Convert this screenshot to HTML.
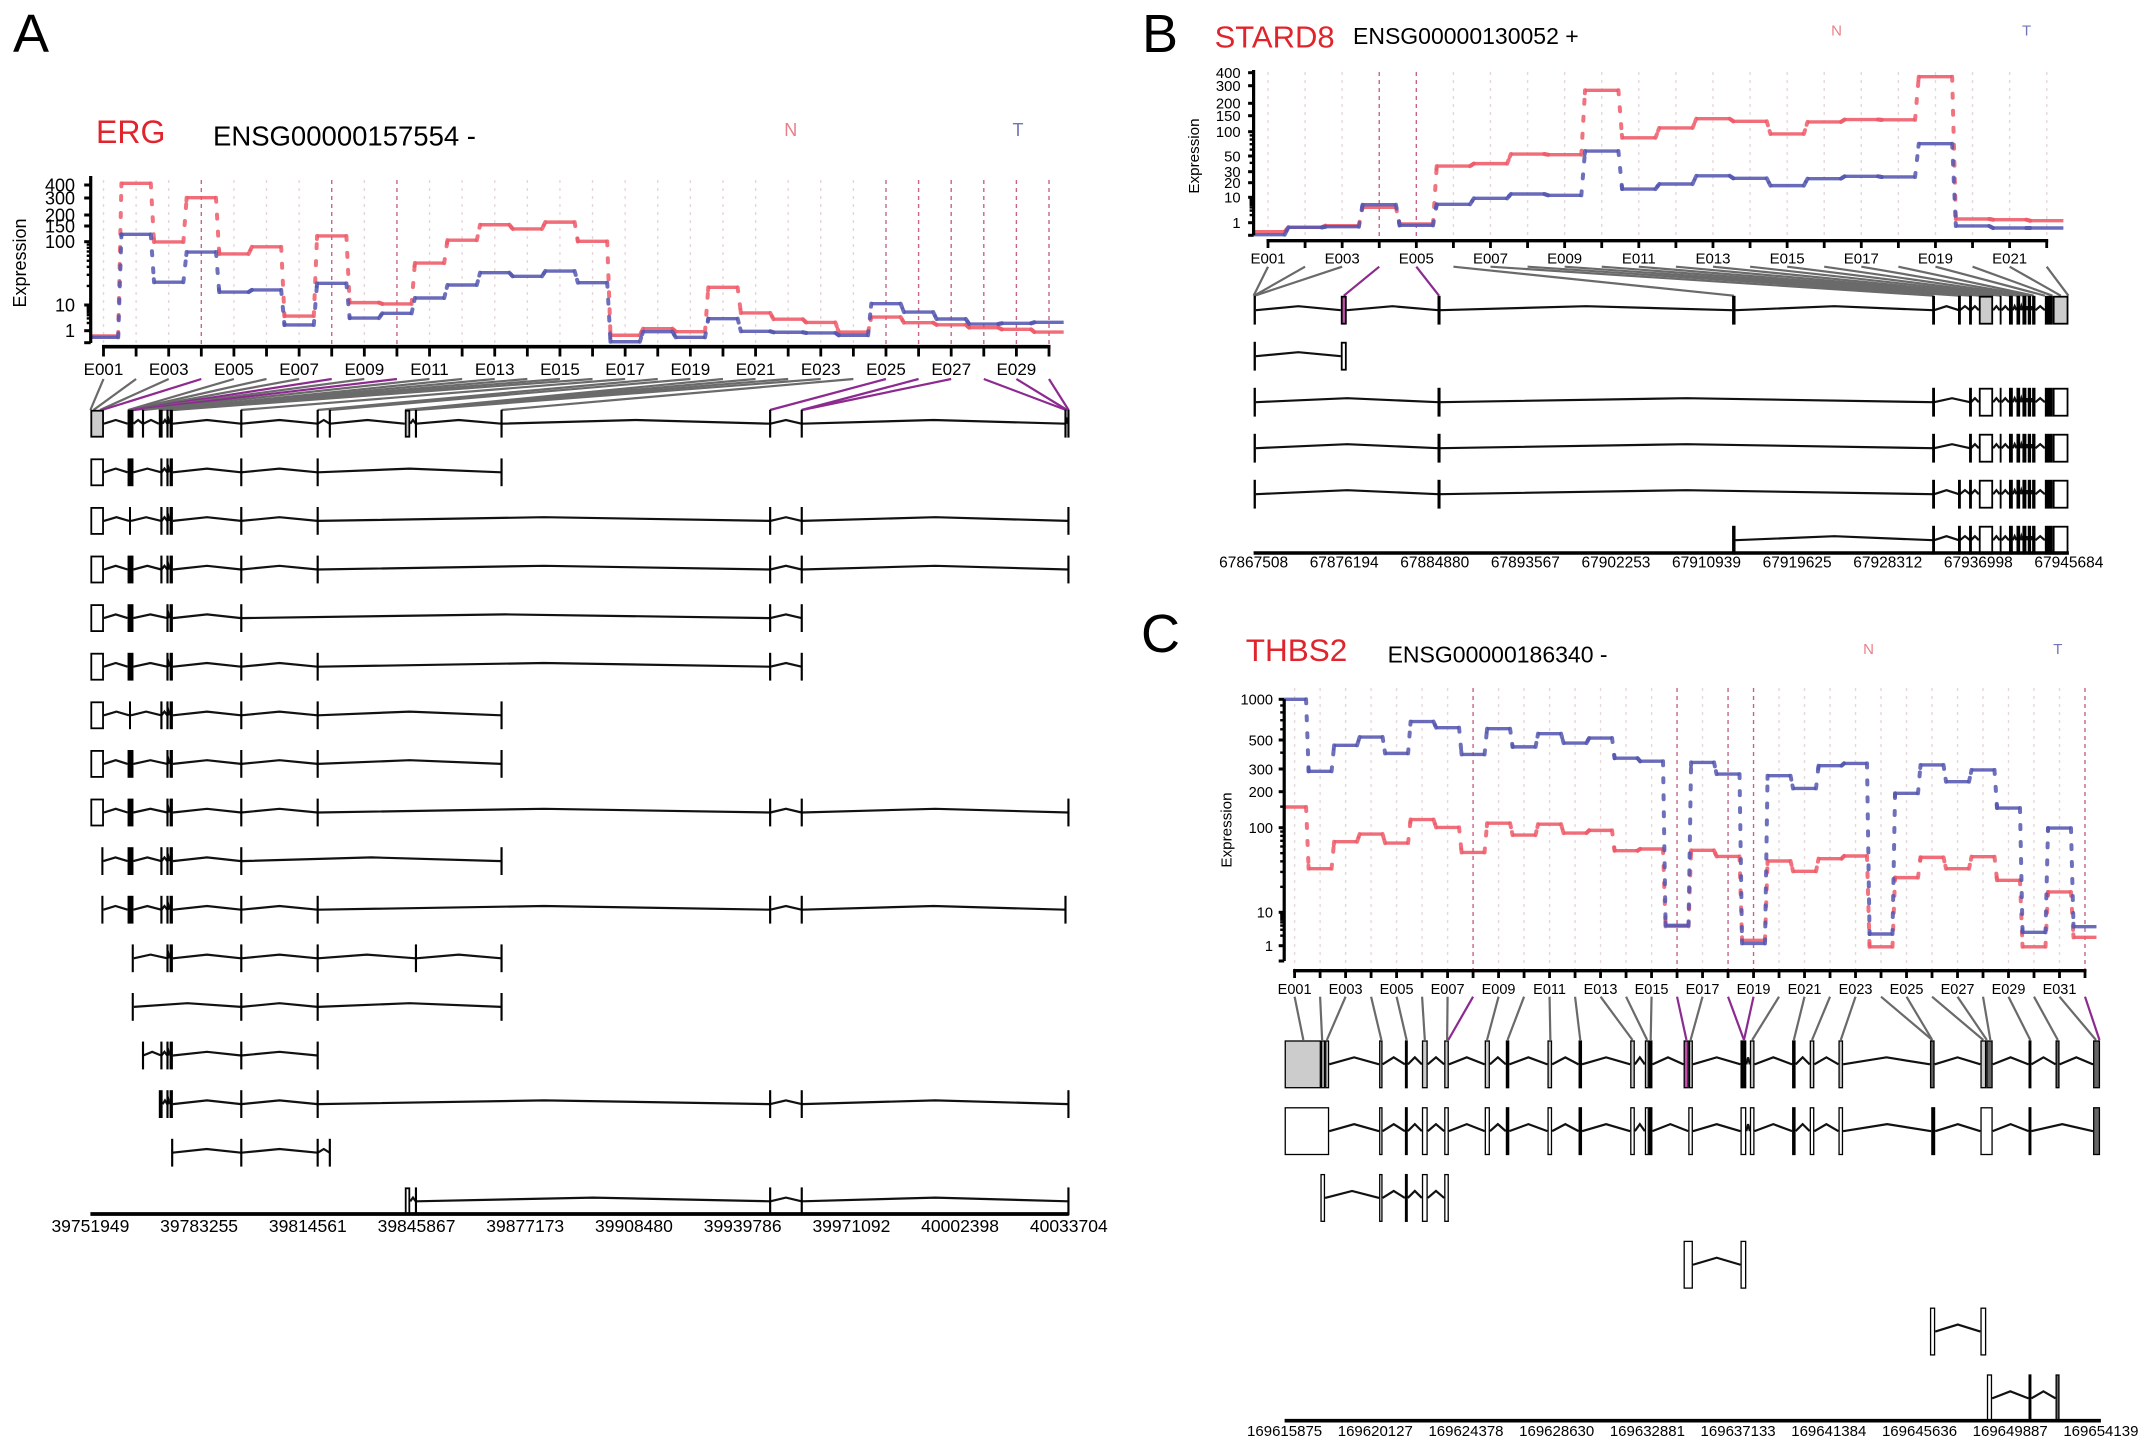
<!DOCTYPE html>
<html lang="en">
<head>
<meta charset="utf-8">
<title>ERG, STARD8 and THBS2 exon expression</title>
<style>
html,body{margin:0;padding:0;background:#fff;}
svg{display:block;font-family:"Liberation Sans",Arial,sans-serif;}
</style>
</head>
<body>
<svg id="figure" width="2150" height="1449" viewBox="0 0 2150 1449" xmlns="http://www.w3.org/2000/svg">
<rect width="2150" height="1449" fill="#fff"/>

<g id="panel-a">
<text x="13" y="52" font-size="54">A</text>
<text x="96" y="143" font-size="32" fill="#e0242c">ERG</text>
<text x="213" y="145.7" font-size="27.5">ENSG00000157554 -</text>
<text x="790.7" y="136" font-size="18" text-anchor="middle" fill="#e8808a">N</text>
<text x="1018" y="136" font-size="18" text-anchor="middle" fill="#7275b8">T</text>
<text x="0" y="0" font-size="18" text-anchor="middle" transform="translate(26,263) rotate(-90)">Expression</text>
</g>

<g id="panel-b">
<text x="1142" y="52" font-size="54">B</text>
<text x="1214.6" y="47.7" font-size="31" fill="#e0242c">STARD8</text>
<text x="1353" y="44" font-size="23">ENSG00000130052 +</text>
<text x="1836.6" y="35.7" font-size="15" text-anchor="middle" fill="#e8808a">N</text>
<text x="2026.6" y="35.7" font-size="15" text-anchor="middle" fill="#7275b8">T</text>
<text x="0" y="0" font-size="15.2" text-anchor="middle" transform="translate(1199,156) rotate(-90)">Expression</text>
</g>

<g id="panel-c">
<text x="1141" y="652" font-size="54">C</text>
<text x="1245.8" y="661" font-size="31.5" fill="#e0242c">THBS2</text>
<text x="1387.6" y="662.7" font-size="23">ENSG00000186340 -</text>
<text x="1868.5" y="654" font-size="15" text-anchor="middle" fill="#e8808a">N</text>
<text x="2057.8" y="654" font-size="15" text-anchor="middle" fill="#7275b8">T</text>
<text x="0" y="0" font-size="15.2" text-anchor="middle" transform="translate(1231.5,830) rotate(-90)">Expression</text>
</g>
</svg>

<script>
/* ---------- ERG data ---------- */
const ergCategories = ['E001','E002','E003','E004','E005','E006','E007','E008','E009','E010','E011','E012','E013','E014','E015','E016','E017','E018','E019','E020','E021','E022','E023','E024','E025','E026','E027','E028','E029','E030'];
const ergNormal = [0.56,415,99,302,64,83,3.7,116,10.9,10.4,46,104,155,139,166,101,0.62,1.2,0.92,19,4.9,2.8,2.1,0.89,3.4,2.05,1.7,1.31,1.13,0.89];
const ergTumor = [0.45,121,22.9,68.7,16,17.3,1.67,22,3.1,4.75,12.9,20.7,32.4,28.4,34.4,22.5,0.08,0.92,0.45,2.93,0.95,0.87,0.81,0.62,10.5,5.3,2.85,1.82,1.94,2.12];
const ergSignificant = ['E004','E008','E010','E025','E026','E027','E028','E029','E030'];
const ergYTicks = [0,1,10,100,150,200,300,400];
const ergGenomicTicks = [39751949,39783255,39814561,39845867,39877173,39908480,39939786,39971092,40002398,40033704];
const ergBinStarts = [0,890,2760,3340,10830,11120,11400,11840,12120,12410,15150,19670,20480,22200,22920,23790,43370,65460,68950,90600,91180,92050,93770,118400,195720,204800,204940,280970,281260,281690];
const ergExons = {a:[0,3900],a2:[3150,3750],b:[10700,12400],b2:[11117,11693],b3:[11900,12500],c:[15100,15200],d:[19700,20800],d2:[20400,20500],e:[22150,22250],f:[22810,23760],f2:[23500,23600],g:[43400,43500],h:[65400,65500],i:[68900,69000],j:[90540,92100],k:[93700,93800],l:[118350,118450],m:[195700,195800],n:[204800,204900],o2:[280750,280850],o:[281600,281700]};
const ergSolidExons = ['a2','b','b2','b3','d'];
const ergDarkExons = [];
const ergHighlightExons = [];
const ergTranscripts = [
 ['a','b','c','d','e','f','g','h','i','j','k','l','m','n','o2','o'],
 ['a','b','d2','e','f','g','h','l'],
 ['a','b2','d2','e','f','g','h','m','n','o'],
 ['a','b','d2','e','f','g','h','m','n','o'],
 ['a','b','e','f','g','m','n'],
 ['a','b','e','f','g','h','m','n'],
 ['a','b2','d2','e','f','g','h','l'],
 ['a','b','e','f','g','h','l'],
 ['a','b','e','f','g','h','m','n','o'],
 ['a2','b','d2','e','f','g','l'],
 ['a2','b','d2','e','f','g','h','m','n','o2'],
 ['b3','e','f','g','h','k','l'],
 ['b3','g','h','l'],
 ['c','d2','e','f','g','h'],
 ['d','e','f','g','h','m','n','o'],
 ['f2','g','h','i'],
 ['j','k','m','n','o']
];

/* ---------- STARD8 data ---------- */
const stard8Categories = ['E001','E002','E003','E004','E005','E006','E007','E008','E009','E010','E011','E012','E013','E014','E015','E016','E017','E018','E019','E020','E021','E022'];
const stard8Normal = [0.29,0.63,0.76,4.04,0.9,36,39,52.9,51.9,270,84,110,139,130,93.7,128,136,135,366,1.4,1.31,1.2];
const stard8Tumor = [0.05,0.63,0.68,5.1,0.79,5.3,9.1,11.7,11,57.6,14.8,18.8,25.8,23.5,17.4,23.2,25.3,24.7,71,0.74,0.58,0.58];
const stard8Significant = ['E004','E005'];
const stard8YTicks = [0,1,10,20,30,50,100,150,200,300,400];
const stard8GenomicTicks = [67867508,67876194,67884880,67893567,67902253,67910939,67919625,67928312,67936998,67945684];
const stard8BinStarts = [0,50,100,8650,17780,46050,65200,67680,68740,69700,70300,70900,71630,72600,73300,73900,74400,74800,75870,76600,77400,78130];
const stard8Exons = {b1:[0,220],b2:[8363,8929],b3:[17720,17840],b4:[45880,46210],b5:[65150,65250],b6:[67630,67730],b7:[68690,68790],b8:[69540,70910],b9:[71540,71720],b10:[72430,72800],b11:[73150,73500],b12:[73720,74100],b13:[74230,74550],b14:[74650,74970],b15:[75870,76630],b16:[76630,78130]};
const stard8SolidExons = ['b1','b4','b9','b10','b11','b12','b13','b14','b15'];
const stard8DarkExons = [];
const stard8HighlightExons = ['b2'];
const stard8Transcripts = [
 ['b1','b2','b3','b4','b5','b6','b7','b8','b9','b10','b11','b12','b13','b14','b15','b16'],
 ['b1','b2'],
 ['b1','b3','b5','b7','b8','b9','b10','b11','b12','b13','b14','b15','b16'],
 ['b1','b3','b5','b7','b8','b9','b10','b11','b12','b13','b14','b15','b16'],
 ['b1','b3','b5','b6','b7','b8','b9','b10','b11','b12','b13','b14','b15','b16'],
 ['b4','b5','b6','b7','b8','b9','b10','b11','b12','b13','b14','b15','b16']
];

/* ---------- THBS2 data ---------- */
const thbs2Categories = ['E001','E002','E003','E004','E005','E006','E007','E008','E009','E010','E011','E012','E013','E014','E015','E016','E017','E018','E019','E020','E021','E022','E023','E024','E025','E026','E027','E028','E029','E030','E031','E032'];
const thbs2Normal = [149,32.8,68.3,84,65.9,117,100.6,51,109,81.9,107,86.5,93,53.5,56,3.8,54,45.8,1.45,40.4,30.5,43,46.3,0.93,25.7,44.6,32.8,45.4,23.9,0.93,17.4,1.78];
const thbs2Tumor = [1000,288,455,526,395,684,617,388,606,443,557,474,517,363,344,4.07,337,274,1.17,266,212,318,331,2.24,194,322,239,295,146,2.51,99,3.7];
const thbs2Significant = ['E008','E016','E018','E019','E032'];
const thbs2YTicks = [0,1,10,100,200,300,500,1000];
const thbs2GenomicTicks = [169615875,169620127,169624378,169628630,169632881,169637133,169641384,169645636,169649887,169654139];
const thbs2BinStarts = [880,1760,1980,4538,5720,6573,7618,7673,9488,10450,12458,13860,16308,16995,17160,18838,19030,21533,21533,21918,23870,24723,26070,30360,30360,32753,32918,33083,34953,36245,38033,38198];
const thbs2Exons = {c1:[0,1705],c1w:[0,2090],c2:[1705,1898],c3:[1898,2090],c3b:[1678,1898],c4:[4428,4593],c5:[5638,5775],c6:[6435,6710],c7:[7480,7700],c8:[9378,9625],c9:[10368,10533],c10:[12320,12540],c11:[13778,13943],c12:[16198,16418],c13:[16885,17078],c14:[17078,17243],c15:[18700,18948],c15b:[18920,19140],c15c:[18948,19140],c15d:[18700,19140],c16:[21368,21643],c16a:[21368,21533],c16b:[21533,21643],c17:[21808,22028],c18:[23788,23953],c19:[24613,24833],c20:[25960,26180],c21:[30250,30470],c21b:[30250,30498],c21n:[30310,30497],c22:[32615,32890],c23:[32890,33193],c23b:[32918,33165],c22w:[32615,33193],c24:[34870,35008],c25:[36135,36328],c26:[37895,38225]};
const thbs2SolidExons = ['c5','c9','c11','c14','c16a','c18','c21n','c24'];
const thbs2DarkExons = ['c21','c23','c25','c26'];
const thbs2HighlightExons = ['c15','c16b'];
const thbs2Transcripts = [
 ['c1','c2','c3','c4','c5','c6','c7','c8','c9','c10','c11','c12','c13','c14','c15','c15c','c16a','c16b','c17','c18','c19','c20','c21','c22','c23','c24','c25','c26'],
 ['c1w','c4','c5','c6','c7','c8','c9','c10','c11','c12','c13','c14','c15b','c16','c17','c18','c19','c20','c21n','c22w','c24','c26'],
 ['c3b','c4','c5','c6','c7'],
 ['c15d','c16'],
 ['c21b','c22'],
 ['c23b','c24','c25']
];

const minorTickValues = [2,3,4,5,6,7,8,9,20,30,40,50,60,70,80,90,150,200,300,400,500,600,700,800,900];

/* ---------- layouts (geometry only) ---------- */
const ergLayout = {id:'panel-a',tag:'erg',axisX:90.7,axisTop:176,axisBottom:343,tickX0:103.5,tickX1:1049,barY:346.7,barH:3.6,tickEnd:356.5,labelY:369,labelSize:17,yLabelX:75,yLabelSize:18,majorLen:6.5,
 scalePx:[342.7,330.7,305,241.7,226,215,198,185],guideTop:180,linkTop:379,linkBottom:410,rowTop:410.7,rowStep:48.6,rowH:26,hump:3.7,gx0:90.4,gx1:1068.8,gBarY:1214,gBarH:3.8,gLabelY:1225.7,gLabelSize:17.5,exonStroke:1.8};
const stard8Layout = {id:'panel-b',tag:'stard8',axisX:1253.6,axisTop:70,axisBottom:235.3,tickX0:1268,tickX1:2046.7,barY:240.7,barH:3.4,tickEnd:248,labelY:258.3,labelSize:15,yLabelX:1240.6,yLabelSize:14.8,majorLen:5.5,
 scalePx:[235.3,222.7,197.3,182.7,171.7,156,131.7,115.7,103.3,85.7,72.7],guideTop:72,linkTop:266.7,linkBottom:295.7,rowTop:296.7,rowStep:46,rowH:27,hump:4,gx0:1253.6,gx1:2068.9,gBarY:553,gBarH:3.4,gLabelY:562,gLabelSize:15.5,exonStroke:1.8};
const thbs2Layout = {id:'panel-c',tag:'thbs2',axisX:1284.2,axisTop:699.3,axisBottom:961,tickX0:1294.6,tickX1:2085,barY:970.7,barH:3.4,tickEnd:978,labelY:989,labelSize:14.5,yLabelX:1273,yLabelSize:14.6,majorLen:5.5,
 scalePx:[961,945.7,912.3,827.7,791.7,769,740,699.3],guideTop:688,linkTop:996.7,linkBottom:1040,rowTop:1041,rowStep:66.8,rowH:46.7,hump:7,gx0:1284.6,gx1:2100.9,gBarY:1420.7,gBarH:3.7,gLabelY:1430.7,gLabelSize:15,exonStroke:1.3};

const genes = [
 {layout:ergLayout,categories:ergCategories,normal:ergNormal,tumor:ergTumor,significant:ergSignificant,yTicks:ergYTicks,genomicTicks:ergGenomicTicks,bins:ergBinStarts,exons:ergExons,solid:ergSolidExons,dark:ergDarkExons,highlight:ergHighlightExons,transcripts:ergTranscripts},
 {layout:stard8Layout,categories:stard8Categories,normal:stard8Normal,tumor:stard8Tumor,significant:stard8Significant,yTicks:stard8YTicks,genomicTicks:stard8GenomicTicks,bins:stard8BinStarts,exons:stard8Exons,solid:stard8SolidExons,dark:stard8DarkExons,highlight:stard8HighlightExons,transcripts:stard8Transcripts},
 {layout:thbs2Layout,categories:thbs2Categories,normal:thbs2Normal,tumor:thbs2Tumor,significant:thbs2Significant,yTicks:thbs2YTicks,genomicTicks:thbs2GenomicTicks,bins:thbs2BinStarts,exons:thbs2Exons,solid:thbs2SolidExons,dark:thbs2DarkExons,highlight:thbs2HighlightExons,transcripts:thbs2Transcripts}
];

const SVGNS = 'http://www.w3.org/2000/svg';
function draw(parent, tag, attrs, text){
  const node = document.createElementNS(SVGNS, tag);
  for (const k in attrs) node.setAttribute(k, attrs[k]);
  if (text !== undefined) node.textContent = text;
  parent.appendChild(node);
  return node;
}

/* piecewise expression axis: log between labelled ticks, linear below 1 */
function yScale(gene, v){
  const d = gene.yTicks, r = gene.layout.scalePx;
  let i = 0;
  while (i < d.length - 2 && v > d[i + 1]) i++;
  if (d[i] <= 0) return r[i] + (r[i + 1] - r[i]) * (v / d[i + 1]);
  return r[i] + (r[i + 1] - r[i]) * (Math.log(Math.max(v, 1e-6) / d[i]) / Math.log(d[i + 1] / d[i]));
}
function xBand(gene, i){
  const L = gene.layout;
  return L.tickX0 + i * (L.tickX1 - L.tickX0) / (gene.categories.length - 1);
}
function genomeOffsetX(gene, offset){
  const L = gene.layout, t = gene.genomicTicks;
  return L.gx0 + offset / (t[t.length - 1] - t[0]) * (L.gx1 - L.gx0);
}

function drawSeries(gene, group, values, color, label){
  const L = gene.layout;
  const step = xBand(gene, 1) - xBand(gene, 0);
  const half = 0.45 * step;
  values.forEach(function(v, i){
    const cx = xBand(gene, i);
    const y = yScale(gene, v);
    const x1 = Math.max(cx - half, L.axisX);
    const seg = draw(group, 'line', {x1:x1, x2:cx + half, y1:y, y2:y, stroke:color, 'stroke-width':3.4, 'stroke-opacity':0.88});
    
    
    if (i < values.length - 1){
      const ny = yScale(gene, values[i + 1]);
      const sx = cx + half;
      const ex = xBand(gene, i + 1) - half;
      const link = draw(group, 'line', {x1:sx, y1:y, x2:ex, y2:ny, stroke:color, 'stroke-width':4, 'stroke-opacity':0.85, 'stroke-dasharray':'4 13', 'stroke-linecap':'round'});
      
      
      const len = Math.hypot(ex - sx, ny - y) || 1;
      const stub = draw(group, 'line', {x1:ex - (ex - sx) / len * Math.min(3, len), y1:ny - (ny - y) / len * Math.min(3, len), x2:ex, y2:ny, stroke:color, 'stroke-width':4, 'stroke-opacity':0.85, 'stroke-linecap':'round'});
      
      
    }
  });
}

function drawPanel(gene){
  const L = gene.layout;
  const panel = document.getElementById(L.id);

  /* guides */
  const guides = draw(panel, 'g', {});
  
  
  gene.categories.forEach(function(cat, i){
    const strong = gene.significant.indexOf(cat) >= 0;
    const ln = draw(guides, 'line', {x1:xBand(gene, i), x2:xBand(gene, i), y1:L.guideTop, y2:L.barY, stroke:strong ? '#c8648a' : '#e6d8da', 'stroke-width':1.4, 'stroke-dasharray':strong ? '4 4' : '3 5'});
    
    
  });

  /* series */
  const normalGroup = draw(panel, 'g', {});
  
  
  drawSeries(gene, normalGroup, gene.normal, '#ee5a68', 'normal');
  const tumorGroup = draw(panel, 'g', {});
  
  
  drawSeries(gene, tumorGroup, gene.tumor, '#5557b0', 'tumor');

  /* y axis */
  const yAxis = draw(panel, 'g', {});
  
  
  const spine = draw(yAxis, 'line', {x1:L.axisX, x2:L.axisX, y1:L.axisTop, y2:L.axisBottom, stroke:'#000', 'stroke-width':3.2});
  
  
  const maxTick = gene.yTicks[gene.yTicks.length - 1];
  minorTickValues.filter(function(v){ return v < maxTick && gene.yTicks.indexOf(v) < 0; }).forEach(function(v){
    const y = yScale(gene, v);
    const mt = draw(yAxis, 'line', {x1:L.axisX - 4, x2:L.axisX, y1:y, y2:y, stroke:'#000', 'stroke-width':2.4});
    
    
  });
  gene.yTicks.forEach(function(v){
    const y = yScale(gene, v);
    const tk = draw(yAxis, 'line', {x1:L.axisX - L.majorLen, x2:L.axisX, y1:y, y2:y, stroke:'#000', 'stroke-width':3});
    
    
    if (v > 0){
      const lb = draw(yAxis, 'text', {x:L.yLabelX, y:y + L.yLabelSize * 0.36, 'text-anchor':'end', 'font-size':L.yLabelSize}, String(v));
      
      
    }
  });

  /* x axis */
  const xAxis = draw(panel, 'g', {});
  
  
  const bar = draw(xAxis, 'line', {x1:L.tickX0 - 1.5, x2:L.tickX1 + 1.5, y1:L.barY, y2:L.barY, stroke:'#000', 'stroke-width':L.barH});
  
  
  gene.categories.forEach(function(cat, i){
    const x = xBand(gene, i);
    const tk = draw(xAxis, 'line', {x1:x, x2:x, y1:L.barY, y2:L.tickEnd, stroke:'#000', 'stroke-width':2.8});
    
    
    if (i % 2 === 0){
      const lb = draw(xAxis, 'text', {x:x, y:L.labelY + L.labelSize * 0.36, 'text-anchor':'middle', 'font-size':L.labelSize}, cat);
      
      
    }
  });

  /* links from exon bins to the gene model */
  const links = draw(panel, 'g', {});
  
  
  gene.categories.forEach(function(cat, i){
    const strong = gene.significant.indexOf(cat) >= 0;
    const ln = draw(links, 'line', {x1:xBand(gene, i), y1:L.linkTop, x2:genomeOffsetX(gene, gene.bins[i]), y2:L.linkBottom, stroke:strong ? '#8c2a8f' : '#6a6a6a', 'stroke-width':2.2});
    
    
  });

  /* transcripts */
  gene.transcripts.forEach(function(keys, row){
    const top = L.rowTop + row * L.rowStep;
    const mid = top + L.rowH / 2;
    const tg = draw(panel, 'g', {});
    
    
    keys.forEach(function(key, k){
      if (k === 0) return;
      const a = genomeOffsetX(gene, gene.exons[keys[k - 1]][1]);
      const b = genomeOffsetX(gene, gene.exons[key][0]);
      if (b - a < 1) return;
      const p = draw(tg, 'polyline', {points:a + ',' + mid + ' ' + (a + b) / 2 + ',' + (mid - L.hump) + ' ' + b + ',' + mid, fill:'none', stroke:'#111', 'stroke-width':2.2});
      
      
    });
    keys.forEach(function(key){
      const ex = gene.exons[key];
      const x0 = genomeOffsetX(gene, ex[0]);
      const x1 = genomeOffsetX(gene, ex[1]);
      const sw = L.exonStroke;
      let r;
      if (gene.solid.indexOf(key) >= 0){
        r = draw(tg, 'rect', {x:x0, y:top - sw / 2, width:x1 - x0, height:L.rowH + sw, fill:'#000000'});
      } else {
        let fill = row === 0 ? '#cccccc' : '#ffffff';
        if (gene.dark.indexOf(key) >= 0) fill = '#666666';
        if (row === 0 && gene.highlight.indexOf(key) >= 0) fill = '#c24fb0';
        const wide = x1 - x0 > sw;
        r = draw(tg, 'rect', {x:wide ? x0 + sw / 2 : x0, y:top, width:wide ? x1 - x0 - sw : Math.max(x1 - x0, 0.2), height:L.rowH, fill:fill, stroke:'#000', 'stroke-width':sw});
      }
      
      
    });
  });

  /* genomic axis */
  const gAxis = draw(panel, 'g', {});
  
  
  const gBar = draw(gAxis, 'line', {x1:L.gx0, x2:L.gx1, y1:L.gBarY, y2:L.gBarY, stroke:'#000', 'stroke-width':L.gBarH});
  
  
  gene.genomicTicks.forEach(function(pos){
    const lb = draw(gAxis, 'text', {x:genomeOffsetX(gene, pos - gene.genomicTicks[0]), y:L.gLabelY + L.gLabelSize * 0.36, 'text-anchor':'middle', 'font-size':L.gLabelSize}, String(pos));
    
    
  });
}

genes.forEach(drawPanel);
</script>
</body>
</html>
